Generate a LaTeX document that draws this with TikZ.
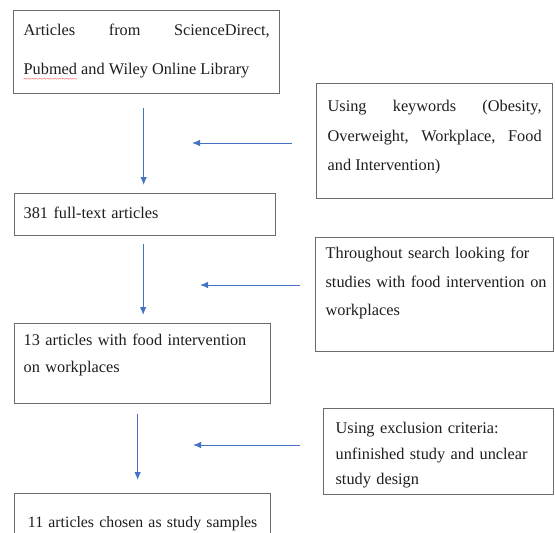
\documentclass[tikz,border=0pt]{standalone}
\usepackage{fontspec}
\setmainfont{Liberation Serif}
\usepackage{xcolor}
\usepackage{tikz}
\usetikzlibrary{arrows.meta, positioning}
\definecolor{flowblue}{HTML}{4472C4}
\definecolor{boxgray}{HTML}{6B6B6B}
\definecolor{inkgray}{HTML}{1E1E1E}
\newcommand\spellwave[1]{\setbox0\hbox{#1}\rlap{\textcolor{red}{\raisebox{-6.5pt}{\hbox to\wd0{\xleaders\hbox{\fontsize{7}{7}\selectfont\textasciitilde}\hfil}}}}#1}

\begin{document}
\begin{tikzpicture}[x=1pt, y=-1pt,
    box/.style    = {rectangle, draw=boxgray, line width=1.3pt, fill=white, text=inkgray,
                     anchor=north west, inner xsep=10pt, inner ysep=0pt},
    stage/.style  = {box, align=left},
    filter/.style = {box, align=left},
    flow/.style   = {-{Latex[length=8pt,width=6.5pt]}, line width=1pt, color=flowblue}
  ]

  \clip (0,0) rectangle (555,533);

  % ── Left column: stages ───────────────────────────────────────────────────
  \node[stage, align=justify, text width=246pt, text height=25pt, text depth=58pt,
        font=\fontsize{16.3}{39}\selectfont] (sources) at (13,10)
    {Articles from ScienceDirect,\linebreak \spellwave{Pubmed} and Wiley Online Library};
  \node[stage, text width=243pt, inner xsep=9pt, text height=25pt, text depth=17pt,
        font=\fontsize{16.3}{28}\selectfont] (fulltext) at (14,193)
    {381 full-text articles};
  \node[stage, text width=238pt, inner xsep=9pt, text height=22pt, text depth=58pt,
        font=\fontsize{16.3}{27}\selectfont] (foodint) at (14,323)
    {13 articles with food intervention\\ on workplaces};
  \node[stage, align=center, text width=236pt, text height=34pt, text depth=40pt,
        font=\fontsize{15.8}{28}\selectfont] (chosen) at (14,493)
    {\mbox{11 articles chosen as study samples}};

  % ── Right column: filters ─────────────────────────────────────────────────
  \node[filter, align=justify, text width=214pt, inner xsep=11pt, text height=28pt, text depth=87pt,
        font=\fontsize{16.3}{29.5}\selectfont] (keywords) at (316,83)
    {Using keywords (Obesity,\linebreak Overweight, Workplace, Food\linebreak and Intervention)};
  \node[filter, text width=218pt, text height=21pt, text depth=93pt,
        font=\fontsize{16.3}{28.5}\selectfont] (search) at (315,237)
    {Throughout search looking for\\ \mbox{studies with food intervention on}\\ workplaces};
  \node[filter, text width=206pt, inner xsep=12pt, text height=25pt, text depth=61pt,
        font=\fontsize{16.3}{25.5}\selectfont] (exclusion) at (323,408)
    {Using exclusion criteria:\\ unfinished study and unclear\\ study design};

  % ── Arrows down ───────────────────────────────────────────────────────────
  \draw[flow, shorten <=14pt, shorten >=8pt]
    ([xshift=-3pt]sources.south) -- ([xshift=-3pt]sources.south |- fulltext.north);
  \draw[flow, shorten <=8pt, shorten >=8pt]
    ([xshift=-2pt]fulltext.south) -- ([xshift=-2pt]fulltext.south |- foodint.north);
  \draw[flow, shorten <=10pt, shorten >=13pt]
    ([xshift=-5pt]foodint.south) -- ([xshift=-5pt]foodint.south |- chosen.north);

  % ── Arrows in from the filters ────────────────────────────────────────────
  \coordinate (kwtip) at (192,143);
  \coordinate (srtip) at (200,285);
  \coordinate (extip) at (193,445);
  \draw[flow, shorten <=24pt] (keywords.west |- kwtip) -- (kwtip);
  \draw[flow, shorten <=15pt] (search.west |- srtip) -- (srtip);
  \draw[flow, shorten <=23pt] (exclusion.west |- extip) -- (extip);

\end{tikzpicture}
\end{document}
